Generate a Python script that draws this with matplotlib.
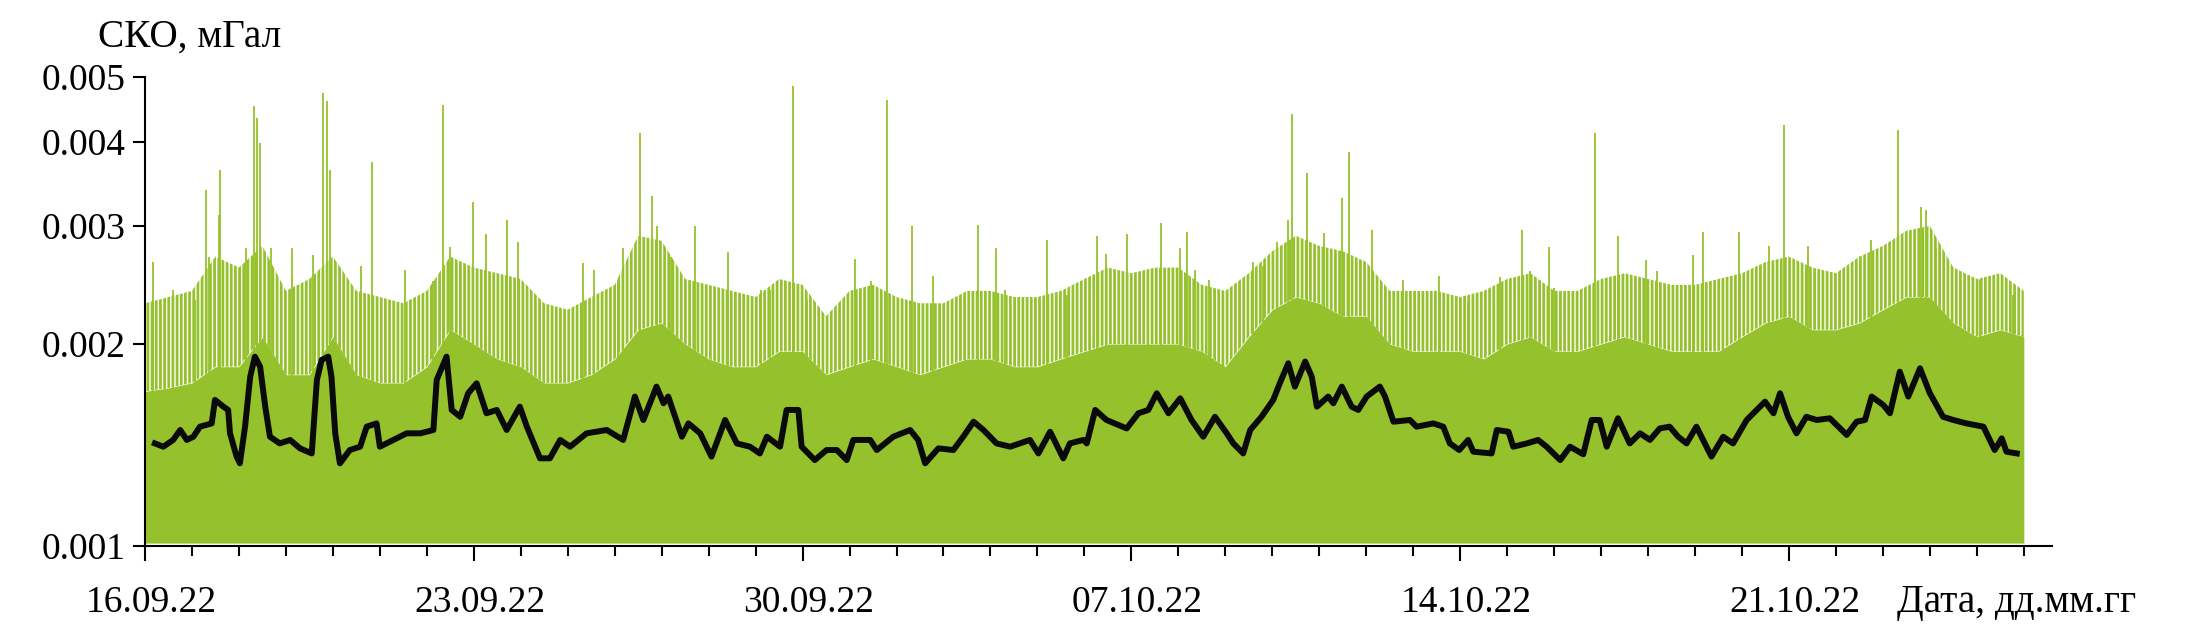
import datetime as dt
import matplotlib
matplotlib.use('Agg')
import matplotlib.pyplot as plt
import matplotlib.dates as mdates
import matplotlib.transforms as mtransforms
from matplotlib.ticker import FixedLocator, NullLocator

plt.rcParams['font.family'] = ['Liberation Serif', 'DejaVu Serif']
plt.rcParams['hatch.linewidth'] = 2.0

start = dt.datetime(2022, 9, 16)

# moving average (black), days since 16.09.22 and mGal
avg_days = [0.21, 0.39, 0.60, 0.75, 0.89, 1.03, 1.17, 1.42, 1.49, 1.67, 1.77, 1.81, 1.95, 2.02,
            2.13, 2.24, 2.34, 2.45, 2.56, 2.66, 2.87, 3.09, 3.30, 3.55, 3.66, 3.76, 3.90, 3.97,
            4.05, 4.15, 4.36, 4.58, 4.72, 4.93, 5.00, 5.29, 5.57, 5.86, 6.14, 6.21, 6.42, 6.53,
            6.71, 6.88, 7.06, 7.27, 7.49, 7.70, 7.98, 8.13, 8.41, 8.62, 8.84, 9.05, 9.40, 9.83,
            10.18, 10.43, 10.61, 10.89, 11.04, 11.14, 11.43, 11.57, 11.82, 12.06, 12.35, 12.60,
            12.88, 13.09, 13.24, 13.52, 13.66, 13.91, 13.98, 14.26, 14.51, 14.73, 14.94, 15.08,
            15.44, 15.58, 15.93, 16.29, 16.46, 16.61, 16.89, 17.21, 17.42, 17.64, 17.85, 18.13,
            18.42, 18.84, 19.02, 19.27, 19.55, 19.69, 19.98, 20.05, 20.23, 20.47, 20.90, 21.15,
            21.36, 21.54, 21.79, 22.04, 22.28, 22.53, 22.78, 23.03, 23.17, 23.38, 23.53, 23.77,
            24.02, 24.16, 24.34, 24.48, 24.70, 24.84, 24.95, 25.19, 25.30, 25.48, 25.69, 25.83,
            26.01, 26.29, 26.40, 26.58, 26.93, 27.07, 27.43, 27.64, 27.78, 27.98, 28.17, 28.28,
            28.67, 28.78, 29.03, 29.13, 29.42, 29.66, 29.84, 30.13, 30.34, 30.62, 30.80, 30.97,
            31.12, 31.36, 31.61, 31.83, 32.04, 32.25, 32.46, 32.64, 32.82, 33.03, 33.35, 33.60,
            33.81, 34.10, 34.49, 34.67, 34.81, 34.98, 35.16, 35.37, 35.59, 35.87, 36.23, 36.44,
            36.62, 36.76, 37.01, 37.15, 37.36, 37.54, 37.79, 38.00, 38.28, 38.50, 38.78, 39.14,
            39.38, 39.53, 39.63, 39.85]
avg_vals = [1.422, 1.406, 1.439, 1.489, 1.439, 1.455, 1.506, 1.523, 1.651, 1.613, 1.595, 1.472, 1.359, 1.328,
            1.506, 1.788, 1.915, 1.851, 1.613, 1.455, 1.422, 1.439, 1.398, 1.374, 1.768, 1.894, 1.915, 1.788,
            1.472, 1.328, 1.390, 1.406, 1.506, 1.523, 1.406, 1.439, 1.472, 1.472, 1.489, 1.768, 1.915, 1.595,
            1.558, 1.689, 1.748, 1.577, 1.595, 1.489, 1.613, 1.506, 1.351, 1.351, 1.439, 1.406, 1.472, 1.489,
            1.439, 1.670, 1.541, 1.728, 1.632, 1.670, 1.455, 1.523, 1.472, 1.359, 1.541, 1.422,
            1.406, 1.374, 1.455, 1.406, 1.595, 1.595, 1.406, 1.343, 1.390, 1.390, 1.343, 1.439,
            1.439, 1.390, 1.455, 1.489, 1.439, 1.328, 1.398, 1.390, 1.455, 1.532, 1.489, 1.422,
            1.406, 1.439, 1.374, 1.480, 1.351, 1.422, 1.439, 1.422, 1.595, 1.541, 1.497, 1.577,
            1.595, 1.689, 1.577, 1.660, 1.541, 1.455, 1.558, 1.472, 1.422, 1.374, 1.489, 1.558,
            1.651, 1.748, 1.872, 1.728, 1.883, 1.788, 1.613, 1.670, 1.632, 1.728, 1.613, 1.595,
            1.670, 1.728, 1.670, 1.532, 1.541, 1.506, 1.523, 1.506, 1.422, 1.390, 1.439, 1.382,
            1.374, 1.489, 1.480, 1.406, 1.422, 1.439, 1.406, 1.343, 1.406, 1.370, 1.541, 1.541,
            1.406, 1.550, 1.422, 1.472, 1.439, 1.497, 1.506, 1.455, 1.422, 1.506, 1.359, 1.455,
            1.422, 1.541, 1.641, 1.577, 1.689, 1.558, 1.472, 1.558, 1.541, 1.550, 1.464, 1.532,
            1.541, 1.670, 1.622, 1.577, 1.819, 1.670, 1.840, 1.689, 1.558, 1.541, 1.523, 1.506,
            1.390, 1.447, 1.382, 1.374]

# raw series (green): dense body and upper fringe, every half day
env_days = [i * 0.5 for i in range(81)]
body_top = [1.70, 1.72, 1.75, 1.85, 1.85, 2.05, 1.80, 1.80, 2.05, 1.80, 1.75, 1.75, 1.85, 2.10,
            2.00, 1.90, 1.85, 1.75, 1.75, 1.80, 1.90, 2.10, 2.15, 2.00, 1.90, 1.85, 1.85, 1.95,
            1.95, 1.80, 1.85, 1.90, 1.85, 1.80, 1.85, 1.90, 1.90, 1.85, 1.85, 1.90, 1.95, 2.00,
            2.00, 2.00, 2.00, 1.95, 1.85, 2.05, 2.25, 2.35, 2.30, 2.20, 2.20, 2.00, 1.95, 1.95,
            1.95, 1.90, 2.00, 2.05, 1.95, 1.95, 2.00, 2.05, 2.00, 1.95, 1.95, 1.95, 2.05, 2.15,
            2.20, 2.10, 2.10, 2.15, 2.25, 2.35, 2.35, 2.15, 2.05, 2.10, 2.05]
fringe_top = [2.30, 2.35, 2.40, 2.70, 2.60, 2.80, 2.40, 2.50, 2.70, 2.40, 2.35, 2.30, 2.40, 2.70,
              2.60, 2.55, 2.50, 2.30, 2.25, 2.35, 2.45, 2.90, 2.85, 2.50, 2.45, 2.40, 2.35, 2.50,
              2.45, 2.20, 2.40, 2.45, 2.35, 2.30, 2.30, 2.40, 2.40, 2.35, 2.35, 2.40, 2.50, 2.60,
              2.55, 2.60, 2.60, 2.45, 2.40, 2.55, 2.75, 2.90, 2.80, 2.75, 2.65, 2.40, 2.40, 2.40,
              2.35, 2.40, 2.50, 2.55, 2.40, 2.40, 2.50, 2.55, 2.50, 2.45, 2.45, 2.50, 2.55, 2.65,
              2.70, 2.60, 2.55, 2.70, 2.80, 2.95, 3.00, 2.60, 2.50, 2.55, 2.40]
green_floor = 1.01

# single outlier spikes of the raw series
spike_days = [0.18, 0.43, 0.60, 1.06, 1.29, 1.37, 1.58, 1.60, 2.16, 2.31, 2.38, 2.45, 2.68, 3.14,
              3.58, 3.80, 3.87, 3.94, 4.59, 4.84, 5.54, 6.14, 6.34, 6.49, 6.99, 7.27, 7.70, 7.95,
              9.33, 9.55, 10.08, 10.18, 10.54, 10.79, 10.89, 11.19, 11.70, 12.41, 13.12, 13.31,
              13.79, 14.09, 15.12, 15.45, 15.79, 16.34, 16.78, 17.46, 17.73, 18.12, 18.30, 19.20,
              19.64, 20.11, 20.27, 20.47, 20.90, 21.36, 21.62, 22.04, 22.18, 22.35, 22.66, 22.96,
              23.58, 23.81, 24.09, 24.34, 24.41, 24.73, 25.10, 25.48, 25.63, 26.12, 26.79, 27.54,
              28.16, 28.85, 29.31, 29.49, 29.90, 29.99, 30.41, 30.88, 31.36, 31.95, 32.18, 32.96,
              33.16, 33.60, 33.93, 34.57, 34.89, 35.40, 36.74, 37.33, 37.82, 37.92, 38.14, 39.07,
              39.76, 39.97]
spike_vals = [2.65, 2.33, 2.41, 2.33, 3.39, 2.70, 3.11, 3.64, 2.78, 4.52, 4.34, 3.98, 2.78, 2.78,
              2.71, 4.73, 4.60, 3.64, 2.61, 3.73, 2.58, 2.48, 4.54, 2.79, 3.26, 2.92, 3.06, 2.84,
              2.64, 2.58, 2.48, 2.78, 4.13, 3.32, 3.00, 2.70, 3.00, 2.74, 2.41, 2.41,
              4.84, 2.33, 2.68, 2.48, 4.62, 3.00, 2.53, 2.33, 3.01, 2.78, 2.41, 2.86,
              2.37, 2.41, 2.90, 2.72, 2.92, 2.58, 3.03, 2.78, 2.94, 2.58, 2.49, 2.31,
              2.65, 2.61, 2.84, 3.06, 4.41, 3.60, 2.93, 3.30, 3.86, 2.96, 2.49, 2.53,
              2.31, 2.52, 2.96, 2.57, 2.79, 2.42, 2.27, 4.13, 2.90, 2.67, 2.57, 2.71,
              2.94, 2.49, 2.94, 2.80, 4.24, 2.80, 2.86, 4.17, 3.20, 3.17, 2.78, 2.49,
              2.37, 2.06]

y_ticks = [0.001, 0.002, 0.003, 0.004, 0.005]
y_labels = ['0.001', '0.002', '0.003', '0.004', '0.005']
x_labels = ['16.09.22', '23.09.22', '30.09.22', '07.10.22', '14.10.22', '21.10.22']


def to_dates(days):
    return [start + dt.timedelta(days=d) for d in days]


def mgal(vals):
    return [v * 1e-3 for v in vals]


green = '#95c22c'
fs = 27
fs_lab = 28.3

fig = plt.figure(figsize=(21.91, 6.32), dpi=100)
ax = fig.add_axes([145 / 2191, 86 / 632, (2052 - 145) / 2191, (546 - 77) / 632])

env_x = to_dates(env_days)
ax.fill_between(env_x, green_floor * 1e-3, mgal(body_top), color=green, lw=0)
ax.fill_between(env_x, mgal(body_top), mgal(fringe_top), facecolor='none',
                edgecolor=green, hatch='||||', lw=0)
ax.vlines(to_dates(spike_days), green_floor * 1e-3, mgal(spike_vals), color=green, lw=1.3)
ax.plot(to_dates(avg_days), mgal(avg_vals), color='#0a0a0a', lw=4.3, zorder=5)

ax.set_yscale('log')
ax.set_ylim(0.001, 0.005)
ax.yaxis.set_major_locator(FixedLocator(y_ticks))
ax.set_yticklabels(y_labels)
ax.yaxis.set_minor_locator(NullLocator())

ax.set_xlim(start, start + dt.timedelta(days=40.6))
ax.set_xticks(to_dates([7 * k for k in range(len(x_labels))]))
ax.set_xticklabels(x_labels)
ax.xaxis.set_minor_locator(mdates.DayLocator())

for s in ['top', 'right']:
    ax.spines[s].set_visible(False)
for s in ['left', 'bottom']:
    ax.spines[s].set_linewidth(1.5)

ax.tick_params(axis='x', which='major', length=10.5, width=1.5, pad=18, labelsize=fs)
ax.tick_params(axis='x', which='minor', length=7, width=1.5)
ax.tick_params(axis='y', which='major', length=9, width=1.5, pad=5, labelsize=fs)

shift = mtransforms.ScaledTranslation(6 / 100, 0, fig.dpi_scale_trans)
for lab in ax.get_xticklabels():
    lab.set_transform(lab.get_transform() + shift)

fig.text(98 / 2191, 1 - 47 / 632, 'СКО, мГал', fontsize=fs_lab, ha='left', va='baseline')
fig.text(1897 / 2191, 1 - 612 / 632, 'Дата, дд.мм.гг', fontsize=fs_lab, ha='left', va='baseline')

fig.savefig('out.png', dpi=100)
